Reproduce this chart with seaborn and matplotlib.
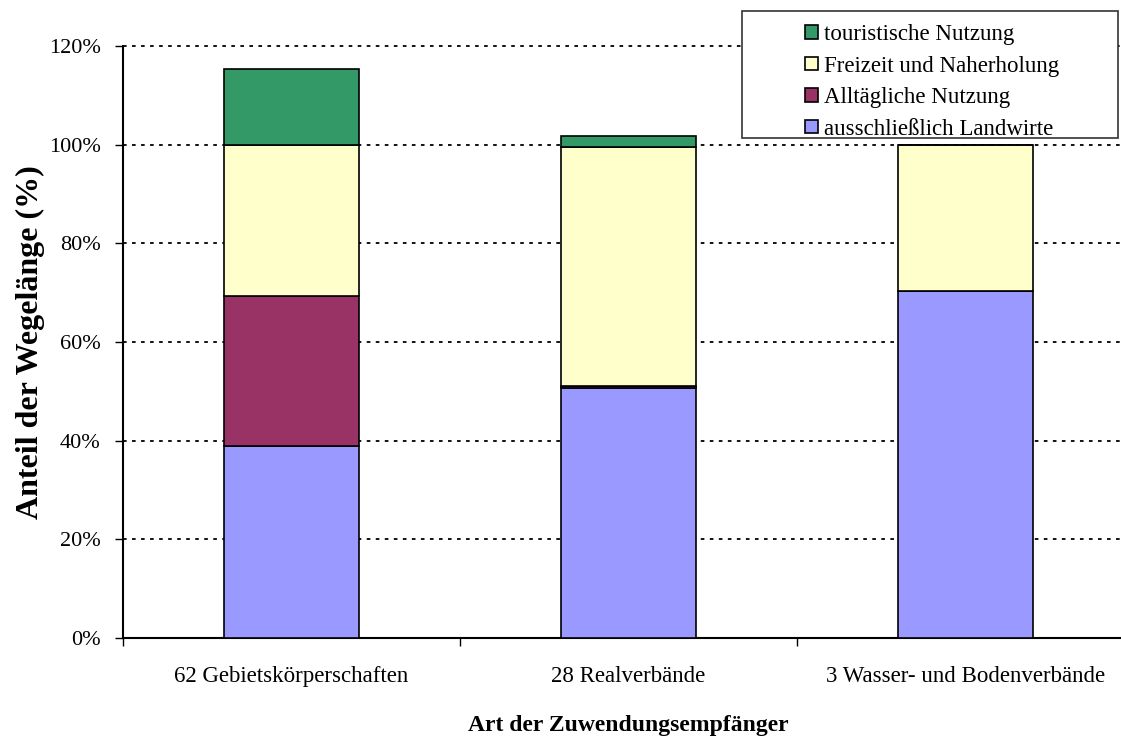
import numpy as np
import pandas as pd
import matplotlib
matplotlib.use("Agg")
import matplotlib.pyplot as plt
import seaborn as sns
from matplotlib.patches import Patch, Rectangle

categories = ["62 Gebietskörperschaften", "28 Realverbände", "3 Wasser- und Bodenverbände"]
landwirte = [39.0, 50.7, 70.4]
alltaeglich = [30.4, 0.4, 0.0]
freizeit = [30.6, 48.4, 29.6]
touristisch = [15.3, 2.3, 0.0]

series_names = ["ausschließlich Landwirte", "Alltägliche Nutzung",
                "Freizeit und Naherholung", "touristische Nutzung"]
series_vals = [landwirte, alltaeglich, freizeit, touristisch]
colors = ["#9999FF", "#993366", "#FFFFCC", "#339966"]
ytick_vals = [0, 20, 40, 60, 80, 100, 120]

sns.set_theme(style="white")
plt.rcParams["font.family"] = ["Liberation Serif", "DejaVu Serif"]
plt.rcParams["text.color"] = "black"
plt.rcParams["axes.labelcolor"] = "black"
plt.rcParams["xtick.color"] = "black"
plt.rcParams["ytick.color"] = "black"

W, H = 1121, 737
fig = plt.figure(figsize=(W / 100, H / 100), dpi=100)
ax = fig.add_axes([123 / W, 1 - 638 / H, 1011 / W, (638 - 46) / H])

bottom = np.zeros(len(categories))
for name, vals, col in zip(series_names, series_vals, colors):
    df = pd.DataFrame({"cat": categories, "val": vals})
    sns.barplot(data=df, x="cat", y="val", order=categories, color=col,
                saturation=1, width=0.4, bottom=bottom.copy(), edgecolor="black",
                linewidth=1.2, ax=ax, zorder=3)
    bottom += np.array(vals)

ax.set_xlim(-0.5, 2.5)
ax.set_ylim(0, 120)
ax.set_yticks(ytick_vals)
ax.set_yticklabels([f"{v}%" for v in ytick_vals], fontsize=16, color="black")
for y in ytick_vals[1:]:
    ax.axhline(y, color="black", linestyle=(0, (2, 3)), linewidth=1.3, zorder=1,
               clip_on=False)

ax.set_xticks([0, 1, 2])
ax.set_xticklabels(categories, fontsize=16.5, color="black")
ax.tick_params(axis="x", which="major", length=0, pad=20)
ax.set_xticks([-0.5, 0.5, 1.5, 2.5], minor=True)
ax.tick_params(axis="x", which="minor", length=6, width=1, color="black",
               direction="out", bottom=True)
ax.tick_params(axis="y", length=6, width=1, color="black", direction="out",
               left=True, pad=10)

for s in ["top", "right"]:
    ax.spines[s].set_visible(False)
for s in ["left", "bottom"]:
    ax.spines[s].set_color("black")
    ax.spines[s].set_linewidth(1.5)

ax.set_xlabel("Art der Zuwendungsempfänger", fontsize=17, fontweight="bold",
              color="black")
ax.xaxis.set_label_coords(0.5, -(715 - 638) / 592)
ax.set_ylabel("Anteil der Wegelänge (%)", fontsize=23, fontweight="bold",
              color="black")
ax.yaxis.set_label_coords((45 - 123) / 1011, 0.5)

# legend frame (Excel style, entries shifted right inside the box)
frame = Rectangle((742 / W, 1 - 138 / H), (1118 - 742) / W, (138 - 11) / H,
                  transform=fig.transFigure, facecolor="white", edgecolor="#333333",
                  linewidth=1.2, zorder=5)
fig.add_artist(frame)

handles = [Patch(facecolor=c, edgecolor="black", linewidth=1.2, label=n)
           for n, c in zip(series_names, colors)][::-1]
leg = fig.legend(handles=handles, loc="upper left",
                 bbox_to_anchor=(805 / W, 1 - 24 / H),
                 fontsize=16.5, frameon=False, handlelength=0.55,
                 handleheight=0.55, handletextpad=0.28, borderpad=0,
                 labelspacing=0.46, borderaxespad=0)
for t in leg.get_texts():
    t.set_color("black")
leg.set_zorder(6)

fig.savefig("out.png", dpi=100)
